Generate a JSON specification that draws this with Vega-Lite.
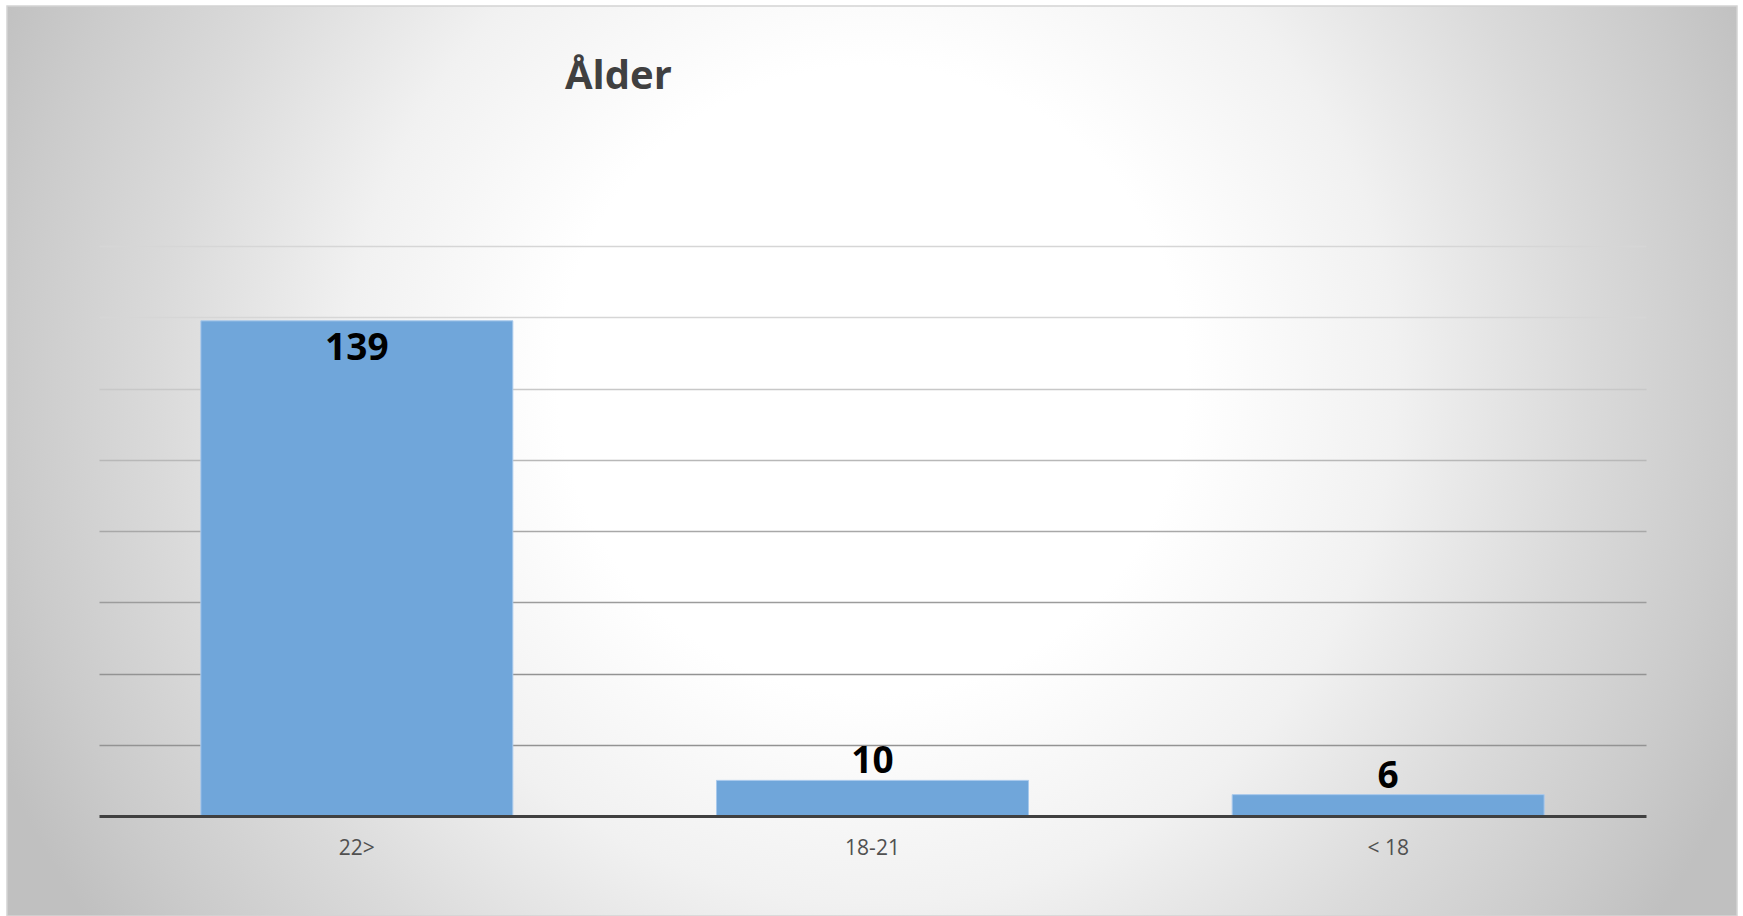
{
  "$schema": "https://vega.github.io/schema/vega-lite/v6.json",
  "width": 1730,
  "height": 910,
  "autosize": {"type": "none"},
  "padding": {"left": 7, "top": 6, "right": 6, "bottom": 0},
  "background": "#ffffff",
  "title": {
    "text": "Ålder",
    "anchor": "start",
    "frame": "group",
    "dx": 558,
    "dy": 123,
    "offset": 0,
    "baseline": "alphabetic",
    "font": "Open Sans",
    "fontSize": 40,
    "fontWeight": "bold",
    "color": "#404040"
  },
  "config": {
    "view": {
      "stroke": "#d4d4d4",
      "strokeWidth": 1.5,
      "fill": {
        "gradient": "radial",
        "x1": 0.5, "y1": 0.453, "r1": 0,
        "x2": 0.5, "y2": 0.453, "r2": 0.55,
        "stops": [
          {"offset": 0, "color": "#ffffff"},
          {"offset": 0.33, "color": "#ffffff"},
          {"offset": 0.55, "color": "#f1f1f1"},
          {"offset": 0.75, "color": "#dadada"},
          {"offset": 0.9, "color": "#cbcbcb"},
          {"offset": 1, "color": "#c0c0c0"}
        ]
      }
    }
  },
  "data": {
    "values": [
      {"age": "22>", "count": 139},
      {"age": "18-21", "count": 10},
      {"age": "< 18", "count": 6}
    ]
  },
  "encoding": {
    "x": {
      "field": "age",
      "type": "nominal",
      "sort": null,
      "scale": {"range": [92, 1639], "paddingInner": 0.395, "paddingOuter": 0.1975},
      "axis": {
        "title": null,
        "orient": "bottom",
        "offset": -100,
        "zindex": 1,
        "domainColor": "#404040",
        "domainWidth": 3,
        "ticks": false,
        "tickSize": 0,
        "grid": false,
        "labelAngle": 0,
        "labelFont": "Open Sans",
        "labelFontSize": 21,
        "labelColor": "#505050",
        "labelBaseline": "alphabetic",
        "labelPadding": 38
      }
    },
    "y": {
      "field": "count",
      "type": "quantitative",
      "scale": {"domain": [0, 160], "range": [810, 240], "nice": false, "zero": true},
      "axis": {
        "title": null,
        "zindex": 0,
        "domain": false,
        "ticks": false,
        "labels": false,
        "grid": true,
        "values": [20, 40, 60, 80, 100, 120, 140, 160],
        "gridWidth": 1.3,
        "gridColor": {
          "condition": [
            {"test": "datum.value >= 140", "value": "#d6d6d6"},
            {"test": "datum.value >= 120", "value": "#c8c8c8"},
            {"test": "datum.value >= 100", "value": "#b8b8b8"},
            {"test": "datum.value >= 80", "value": "#a8a8a8"},
            {"test": "datum.value >= 60", "value": "#9c9c9c"}
          ],
          "value": "#939393"
        }
      }
    }
  },
  "layer": [
    {
      "mark": {"type": "bar", "color": "#70a6da", "stroke": "#a8c9ec", "strokeWidth": 1}
    },
    {
      "transform": [{"filter": "datum.count > 100"}],
      "mark": {"type": "text", "baseline": "alphabetic", "dy": 39, "font": "Open Sans", "fontSize": 37, "fontWeight": "bold", "color": "#000000"},
      "encoding": {"text": {"field": "count", "type": "quantitative"}}
    },
    {
      "transform": [{"filter": "datum.count <= 100"}],
      "mark": {"type": "text", "baseline": "alphabetic", "dy": -7, "font": "Open Sans", "fontSize": 37, "fontWeight": "bold", "color": "#000000"},
      "encoding": {"text": {"field": "count", "type": "quantitative"}}
    }
  ]
}
